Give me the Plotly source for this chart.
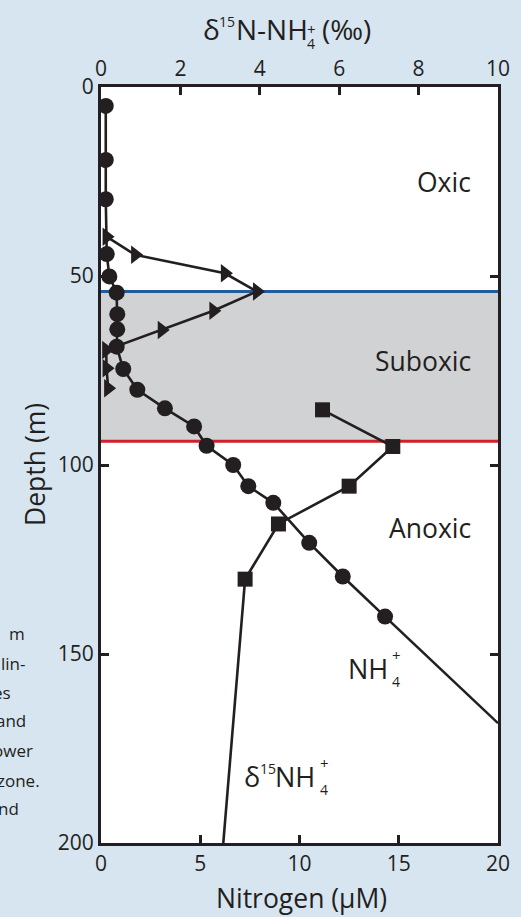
import plotly.graph_objects as go

# NH4+ concentration (bottom axis, µM) vs depth (m)
nh4_depth = [5.0, 19.3, 29.7, 44.2, 50.1, 54.4, 60.1, 64.1, 68.7, 74.6, 80.1, 85.0, 89.8, 94.9, 100.0, 105.6, 110.0, 120.6, 129.5, 140.1]
nh4_conc = [0.24, 0.24, 0.24, 0.29, 0.42, 0.79, 0.82, 0.82, 0.79, 1.12, 1.83, 3.22, 4.69, 5.32, 6.66, 7.42, 8.68, 10.49, 12.18, 14.31]
nh4_tail_depth = [140.1, 168.3]
nh4_tail_conc = [14.31, 20.0]

# d15N-NH4+ (top axis, permil) - triangles (upper profile)
tri_depth = [39.6, 44.4, 49.3, 54.1, 59.2, 64.3, 69.6, 74.4, 79.7]
tri_d15n = [0.14, 0.86, 3.12, 3.93, 2.83, 1.53, 0.13, 0.14, 0.18]

# d15N-NH4+ (top axis, permil) - squares (lower profile)
sq_depth = [85.4, 95.1, 105.6, 115.6, 130.2]
sq_d15n = [5.58, 7.35, 6.25, 4.47, 3.63]
sq_tail_depth = [130.2, 200.0]
sq_tail_d15n = [3.63, 3.08]

# zone boundaries (m)
suboxic_top = 54.1
suboxic_bottom = 93.7

bottom_ticks = [0, 5, 10, 15, 20]
top_ticks = [0, 2, 4, 6, 8, 10]
depth_ticks = [0, 50, 100, 150, 200]

INK = "#231f20"
BG = "#d7e5f0"
FONT = "Open Sans"

L, R, T, B = 101, 23, 87, 74
W, H = 521, 917
PW, PH = W - L - R, H - T - B

fig = go.Figure()

line_style = dict(color=INK, width=2.6)

fig.add_trace(go.Scatter(x=nh4_tail_conc, y=nh4_tail_depth, mode="lines",
                         line=line_style, xaxis="x", yaxis="y", showlegend=False))
fig.add_trace(go.Scatter(x=nh4_conc, y=nh4_depth, mode="lines+markers",
                         line=line_style, marker=dict(symbol="circle", size=16, color=INK),
                         xaxis="x", yaxis="y", showlegend=False))
fig.add_trace(go.Scatter(x=sq_tail_d15n, y=sq_tail_depth, mode="lines",
                         line=line_style, xaxis="x2", yaxis="y", showlegend=False))
fig.add_trace(go.Scatter(x=sq_d15n, y=sq_depth, mode="lines+markers",
                         line=line_style, marker=dict(symbol="square", size=15, color=INK),
                         xaxis="x2", yaxis="y", showlegend=False))
fig.add_trace(go.Scatter(x=tri_d15n, y=tri_depth, mode="lines+markers",
                         line=line_style, marker=dict(symbol="triangle-right", size=16, color=INK),
                         xaxis="x2", yaxis="y", showlegend=False))

# suboxic band and boundaries
fig.add_shape(type="rect", xref="x domain", yref="y", x0=0, x1=1,
              y0=suboxic_top, y1=suboxic_bottom, fillcolor="#d1d2d4",
              line=dict(width=0), layer="below")
fig.add_shape(type="line", xref="x domain", yref="y", x0=0, x1=1,
              y0=suboxic_top, y1=suboxic_top, line=dict(color="#1f5c99", width=3), layer="below")
fig.add_shape(type="line", xref="x domain", yref="y", x0=0, x1=1,
              y0=suboxic_bottom, y1=suboxic_bottom, line=dict(color="#d21f2b", width=3), layer="below")

axis_common = dict(showline=True, linecolor=INK, linewidth=3, ticks="inside",
                   ticklen=8, tickwidth=3, tickcolor=INK, showgrid=False, zeroline=False,
                   tickfont=dict(family=FONT, size=21, color=INK))

fig.update_layout(
    width=W, height=H,
    margin=dict(l=L, r=R, t=T, b=B),
    paper_bgcolor=BG, plot_bgcolor="white",
    font=dict(family=FONT, color=INK),
    xaxis=dict(range=[0, 20], tickvals=bottom_ticks, side="bottom", anchor="y", **axis_common),
    xaxis2=dict(range=[0, 10], tickvals=top_ticks, side="top", overlaying="x", anchor="y", **axis_common),
    yaxis=dict(range=[200, 0], tickvals=depth_ticks, mirror="ticks", **axis_common),
)

ann = []
def P(text, px, py, size=26, xanchor="left", **kw):
    """Text placed by page pixel position (px, py = anchor x, vertical middle)."""
    ann.append(dict(text=text, x=(px - L) / PW, y=(H - B - py) / PH, xref="paper", yref="paper",
                    xanchor=xanchor, yanchor="middle", showarrow=False,
                    font=dict(family=FONT, size=size, color=INK), **kw))

# top axis title: δ15N-NH4+ (‰) with stacked sub/superscript
P("δ", 201, 29, size=28)
P("15", 217, 21, size=14)
P("N-NH", 234, 29, size=28)
P("4", 311, 43, size=14, xanchor="center")
P("+", 311, 29, size=15, xanchor="center")
P("(‰)", 320, 29, size=28)

# bottom and left axis titles
P("Nitrogen (μM)", 301, 898, size=26.5, xanchor="center")
P("Depth (m)", 35, 465, size=26.5, xanchor="center", textangle=-90)

# zone labels
P("Oxic", 473, 182, size=26.5, xanchor="right")
P("Suboxic", 473, 361, size=26.5, xanchor="right")
P("Anoxic", 473, 528, size=26.5, xanchor="right")

# curve labels
P("NH", 346, 668, size=27)
P("4", 396, 681, size=14, xanchor="center")
P("+", 396, 655, size=15, xanchor="center")

P("δ", 242, 776, size=27)
P("15", 258, 768, size=14)
P("NH", 273, 776, size=27)
P("4", 324, 789, size=14, xanchor="center")
P("+", 324, 763, size=15, xanchor="center")

# cut-off caption fragments at left edge
frag = [("m", 27, 633), ("lin-", 27, 663), ("es", 13, 692), ("and", 28, 720),
        ("ower", 35, 750), ("zone.", 42, 780), ("nd", 21, 808)]
for t, px, py in frag:
    P(t, px, py, size=17, xanchor="right")

fig.update_layout(annotations=ann)

fig.write_html("out.html")
